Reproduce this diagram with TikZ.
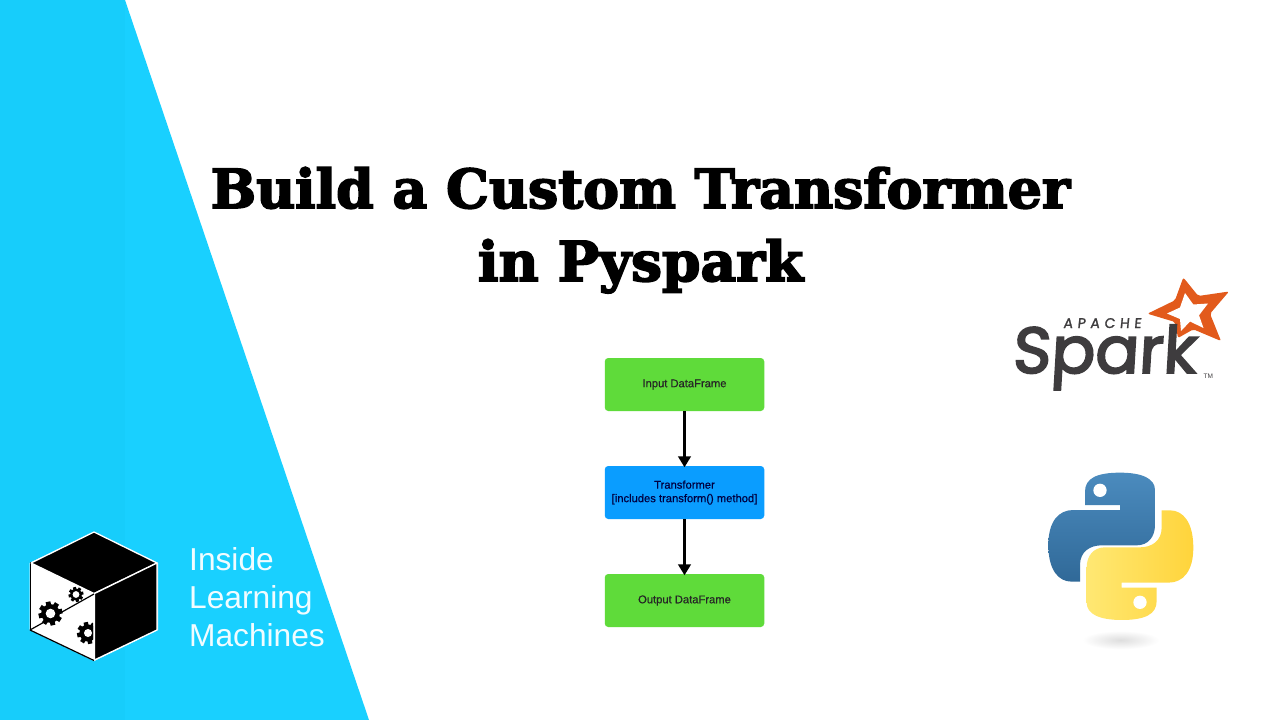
\documentclass[tikz,border=0pt]{standalone}
\usepackage{fontspec}
\setmainfont{Liberation Sans}
\newfontfamily\titlefont[FakeBold=3.2]{DejaVu Serif Bold}
\newfontfamily\sparkfont[FakeSlant=0.06,FakeBold=3]{Poppins}
\newfontfamily\apachefont[FakeSlant=0.1,FakeBold=1.5]{Poppins}
\newfontfamily\flowfont[FakeBold=0.6]{Liberation Sans}
\usetikzlibrary{arrows.meta,positioning}
\definecolor{panelblue}{HTML}{19D0FF}
\definecolor{panelblueb}{HTML}{17CDFB}
\definecolor{flowgreen}{HTML}{5FDB3A}
\definecolor{flowblue}{HTML}{0A9DFF}
\definecolor{sparkgray}{HTML}{3E3C3E}
\definecolor{sparkorange}{HTML}{E25A1C}
\definecolor{pyblueA}{HTML}{4B8BBE}
\definecolor{pyblueB}{HTML}{306998}
\definecolor{pyyelA}{HTML}{FFE873}
\definecolor{pyyelB}{HTML}{FFD43B}
\tikzset{
  flowbox/.style={rounded corners=3.5pt,minimum width=159.5pt,minimum height=53pt,inner sep=0pt,align=center,font=\flowfont\fontsize{11.2}{13.5}\selectfont,text=black!85},
  flowarrow/.style={line width=3.6pt,shorten >=-1.5pt,-{Triangle[length=11pt,width=12.5pt]}},
  titletext/.style={font=\titlefont\fontsize{53.8}{60}\selectfont,text=black,inner sep=0pt,anchor=base},
  brandtext/.style={font=\fontsize{31.7}{36}\selectfont,text=white!94!panelblue,inner sep=0pt,anchor=base west},
  cubeface/.style={fill=black,draw=white,line width=1.3pt,line join=round},
}
\newcommand{\gearshape}[4]{% x, y, radius, hole radius
  \fill[black] (#1,#2) circle[radius=#3*0.78];
  \foreach \a in {0,45,...,315}{
    \fill[black,shift={(#1,#2)},rotate=\a+12] (-#3*0.2,0) rectangle (#3*0.2,#3);
  }
  \fill[white] (#1,#2) circle[radius=#4];
}
\begin{document}
\begin{tikzpicture}[x=1pt,y=-1pt]
\useasboundingbox (0,0) rectangle (1280,720);
\fill[white] (0,0) rectangle (1280,720);
% panel
\fill[panelblue] (0,0) -- (125,0) -- (369,720) -- (0,720) -- cycle;
\fill[panelblueb] (0,0) rectangle (125,720);
% cube
\fill[white] (94,532) -- (158,563) -- (158,630) -- (94,661) -- (29.5,630) -- (29.5,563) -- cycle;
\fill[black] (29.5,562) -- (29.5,631) -- (31,631) -- (31,562) -- cycle;
\draw[cubeface] (94,532) -- (157,563) -- (94,593.5) -- (31,563) -- cycle;
\draw[cubeface] (157,563) -- (157,630) -- (94.5,660) -- (94.5,593.5) -- cycle;
\draw[black,line width=1.2pt] (94,594) -- (30,630);
\draw[black,line width=1.2pt] (30,630) -- (94,660.5);
\gearshape{50.5}{613.5}{12}{4.8}
\gearshape{76}{594.5}{7.5}{3.4}
\begin{scope}
  \clip (60,610) rectangle (93,650);
  \gearshape{88}{633}{11}{4}
\end{scope}
% brand text
\node[brandtext] (brandA) at (189,570) {Inside};
\node[brandtext] (brandB) at (189,608) {Learning};
\node[brandtext] (brandC) at (189,646) {Machines};
% title
\node[titletext] (titleA) at (640.5,208) {Build a Custom Transformer};
\node[titletext,font=\titlefont\fontsize{55}{60}\selectfont] (titleB) at (640.5,281) {in Pyspark};
% flow
\node[flowbox,fill=flowgreen] (input) at (684.5,384.5) {\raisebox{-0.6pt}{Input DataFrame}};
\node[flowbox,fill=flowblue] (transformer) at (684.5,492.5) {\textcolor{black!75!blue}{Transformer}\\\textcolor{black!75!blue}{[includes transform() method]}};
\node[flowbox,fill=flowgreen] (output) at (684.5,600.5) {\raisebox{-0.6pt}{Output DataFrame}};
\draw[flowarrow] (input) -- (transformer);
\draw[flowarrow] (transformer) -- (output);
% spark star
\fill[sparkorange,rounded corners=2pt] (1183.3,277.5) -- (1198.3,296) -- (1229,291.5) -- (1210,313.7) -- (1221,341) -- (1193.3,329.3) -- (1178,338) -- (1175,322) -- (1147.5,313.7) -- (1175,300.3) -- cycle;
\fill[white] (1185,293) -- (1193.3,304.5) -- (1208,303.5) -- (1199,315.3) -- (1203.5,328) -- (1190,321.5) -- (1181,331) -- (1180,319) -- (1167,313.5) -- (1180,307.5) -- cycle;
% spark words
\node[inner sep=0pt,anchor=base west,text=sparkgray,font=\sparkfont\fontsize{65}{70}\selectfont] (sparkword) at (1012,373) {Spark};
\node[inner sep=0pt,anchor=base west,text=sparkgray,font=\apachefont\fontsize{14}{15}\selectfont] (apache) at (1063,328) {A\,\,P\,\,A\,\,C\,\,H\,\,E};
\node[inner sep=0pt,anchor=base west,text=sparkgray,font=\fontsize{6.5}{7}\selectfont] (tm) at (1203.5,378) {TM};
% python
\begin{scope}[shift={(1030,460)},x=0.3333pt,y=-0.3333pt]
  \path[left color=pyblueA,right color=pyblueB,shading angle=0] (270,150) -- (130,150) .. controls (85,150) and (55,185) .. (55,255) .. controls (55,330) and (85,365) .. (125,365) -- (150,365) -- (150,315) .. controls (150,275) and (180,256) .. (215,256) -- (320,256) .. controls (355,256) and (375,230) .. (375,195) -- (375,90) .. controls (375,55) and (335,38) .. (270,38) .. controls (200,38) and (165,55) .. (165,95) -- (165,135) -- (270,135) -- cycle;
  \fill[white] (210,91) circle[radius=20];
  \path[left color=pyyelA,right color=pyyelB] (275,368) -- (415,368) .. controls (460,368) and (490,333) .. (490,263) .. controls (490,188) and (460,151) .. (420,151) -- (395,151) -- (395,203) .. controls (395,243) and (365,262) .. (330,262) -- (225,262) .. controls (190,262) and (170,288) .. (170,323) -- (170,428) .. controls (170,463) and (210,480) .. (275,480) .. controls (345,480) and (380,463) .. (380,423) -- (380,383) -- (275,383) -- cycle;
  \fill[white] (330,427) circle[radius=20];
  \shade[inner color=black!13,outer color=white] (272,540) ellipse[x radius=115,y radius=28];
\end{scope}
\end{tikzpicture}
\end{document}
